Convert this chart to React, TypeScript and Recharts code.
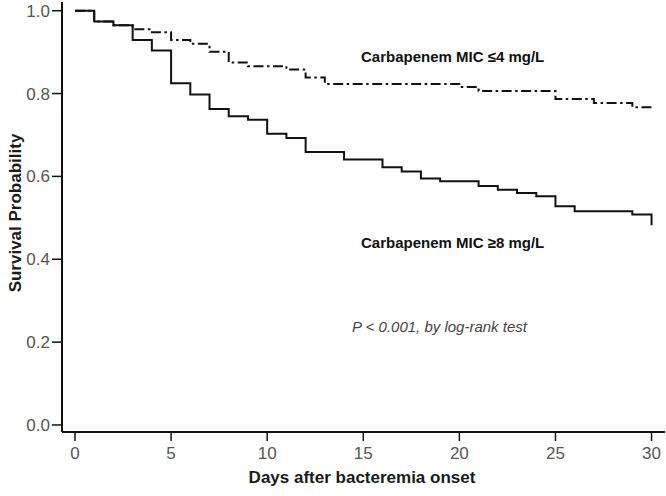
import { LineChart, Line, XAxis, YAxis } from 'recharts';

// Kaplan-Meier survival (value at each day, step after)
const days = [
  0, 1, 2, 3, 4, 5, 6, 7, 8, 9, 10, 11, 12, 13, 14, 15, 16, 17, 18, 19, 20, 21, 22, 23, 24, 25, 26, 27, 28, 29, 30,
];
const lowMicSurvival = [
  1.0, 0.974, 0.965, 0.955, 0.948, 0.929, 0.92, 0.901, 0.875, 0.866, 0.866, 0.858, 0.839, 0.823, 0.823, 0.823,
  0.823, 0.823, 0.823, 0.823, 0.816, 0.806, 0.806, 0.806, 0.806, 0.787, 0.787, 0.777, 0.777, 0.767, 0.76,
];
const highMicSurvival = [
  1.0, 0.974, 0.965, 0.929, 0.904, 0.825, 0.798, 0.763, 0.745, 0.737, 0.703, 0.693, 0.659, 0.659, 0.641, 0.641,
  0.622, 0.612, 0.595, 0.588, 0.588, 0.577, 0.568, 0.56, 0.552, 0.528, 0.516, 0.516, 0.516, 0.508, 0.482,
];
const xTicks = [0, 5, 10, 15, 20, 25, 30];
const yTicks = [0, 0.2, 0.4, 0.6, 0.8, 1.0];

const data = days.map((d, i) => ({ day: d, low: lowMicSurvival[i], high: highMicSurvival[i] }));

const FONT = '"Liberation Sans", Arial, sans-serif';
const INK = '#111';

function XTick({ x, y, payload }: any) {
  return (
    <text x={x} y={y} dy="0.71em" textAnchor="middle" fontFamily={FONT} fontSize={17} fill="#555">
      {payload.value}
    </text>
  );
}

function YTick({ x, y, payload }: any) {
  return (
    <text x={x} y={y} dy="0.355em" textAnchor="end" fontFamily={FONT} fontSize={17} fill="#555">
      {Number(payload.value).toFixed(1)}
    </text>
  );
}

export default function App() {
  return (
    <div style={{ position: 'absolute', left: 0, top: 0, width: 666, height: 496, background: '#fff' }}>
      <LineChart width={666} height={496} data={data} margin={{ top: 2, right: 1, bottom: 0, left: 0 }}>
        <XAxis
          dataKey="day"
          type="number"
          domain={[-0.676, 30.7]}
          ticks={xTicks}
          allowDataOverflow
          height={64}
          tickSize={9}
          tickMargin={6}
          axisLine={{ stroke: INK, strokeWidth: 2 }}
          tickLine={{ stroke: INK, strokeWidth: 1.5 }}
          tick={<XTick />}
        />
        <YAxis
          type="number"
          domain={[-0.017, 1.021]}
          ticks={yTicks}
          allowDataOverflow
          width={62}
          tickSize={10}
          tickMargin={2}
          axisLine={{ stroke: INK, strokeWidth: 2 }}
          tickLine={{ stroke: INK, strokeWidth: 1.5 }}
          tick={<YTick />}
        />
        <Line
          type="stepAfter"
          dataKey="low"
          stroke={INK}
          strokeWidth={2}
          strokeDasharray="10 3.5 2.5 3.5"
          dot={false}
          activeDot={false}
          isAnimationActive={false}
        />
        <Line
          type="stepAfter"
          dataKey="high"
          stroke={INK}
          strokeWidth={2}
          dot={false}
          activeDot={false}
          isAnimationActive={false}
        />
      </LineChart>
      <svg width={666} height={496} style={{ position: 'absolute', left: 0, top: 0, pointerEvents: 'none' }}>
        <text x={361} y={62} fontFamily={FONT} fontSize={15} fontWeight="bold" fill={INK}>
          Carbapenem MIC ≤4 mg/L
        </text>
        <text x={361} y={248} fontFamily={FONT} fontSize={15} fontWeight="bold" fill={INK}>
          Carbapenem MIC ≥8 mg/L
        </text>
        <text x={352} y={332} fontFamily={FONT} fontSize={15} fontStyle="italic" fill="#444">
          P &lt; 0.001, by log-rank test
        </text>
        <text x={362} y={483} textAnchor="middle" fontFamily={FONT} fontSize={17} fontWeight="bold" fill="#1a1a1a">
          Days after bacteremia onset
        </text>
        <text
          transform="translate(21,213) rotate(-90)"
          textAnchor="middle"
          fontFamily={FONT}
          fontSize={17}
          fontWeight="bold"
          fill="#1a1a1a"
        >
          Survival Probability
        </text>
      </svg>
    </div>
  );
}
